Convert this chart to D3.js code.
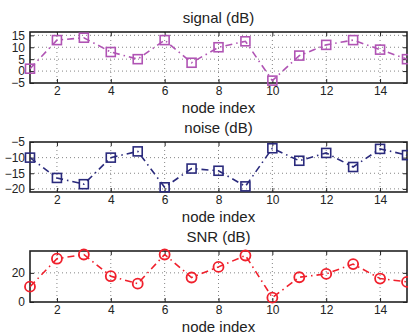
<!DOCTYPE html>
<html>
<head>
<meta charset="utf-8">
<script src="https://cdn.jsdelivr.net/npm/d3@7"></script>
<style>
  body { margin: 0; background: #fff; }
  svg { display: block; font-family: "Liberation Sans", Arial, sans-serif; }
</style>
</head>
<body>
<svg class="visual" width="408" height="334"></svg>
<script>
const svg = d3.select(".visual");

// Node indices
const nodes = d3.range(1, 16);

// Values
const signalDb = [1, 13, 14, 8, 5, 13, 3.5, 10, 12.5, -4, 6.5, 11, 13, 9, 5];
const noiseDb = [-10, -16.5, -18.5, -10, -8, -19.5, -13.5, -14.2, -19.2, -7, -11, -8.5, -13, -7.2, -9.2];
const snrDb = [10.5, 29.7, 32.6, 17.7, 12.6, 32.6, 16.8, 24.1, 31.9, 3, 17, 19.3, 26, 16.1, 13.8];

// Tick labels
const xTicks = [2, 4, 6, 8, 10, 12, 14];
const signalTicks = [-5, 0, 5, 10, 15];
const noiseTicks = [-20, -15, -10, -5];
const snrTicks = [0, 20];

// One entry per subplot
const panels = [
  {title: "signal (dB)", values: signalDb, ticks: signalTicks, domain: [-5, 16.4], top: 32, bottom: 83, color: "#b054b4", marker: "square"},
  {title: "noise (dB)", values: noiseDb, ticks: noiseTicks, domain: [-21, -5], top: 142, bottom: 192, color: "#2a2a7c", marker: "square"},
  {title: "SNR (dB)", values: snrDb, ticks: snrTicks, domain: [0, 35], top: 251, bottom: 302, color: "#f0202c", marker: "circle"}
];

const left = 30, right = 407;
const x = d3.scaleLinear().domain([1, 15]).range([left, right]);
const fmt = d => d < 0 ? "\u2212" + Math.abs(d) : String(d);

panels.forEach(p => {
  const y = d3.scaleLinear().domain(p.domain).range([p.bottom, p.top]);
  const g = svg.append("g");

  // dotted grid
  g.selectAll(".vgrid").data(xTicks).join("line")
    .attr("x1", d => x(d)).attr("x2", d => x(d))
    .attr("y1", p.top).attr("y2", p.bottom)
    .attr("stroke", "#666").attr("stroke-width", 0.8)
    .attr("stroke-dasharray", "1,3");
  g.selectAll(".hgrid").data(p.ticks.filter(t => t > p.domain[0] && t < p.domain[1])).join("line")
    .attr("x1", left).attr("x2", right)
    .attr("y1", d => y(d)).attr("y2", d => y(d))
    .attr("stroke", "#666").attr("stroke-width", 0.8)
    .attr("stroke-dasharray", "1,3");

  // inward ticks on all four sides
  const xAxisB = d3.axisBottom(x).tickValues(xTicks).tickSizeInner(-4).tickSizeOuter(0).tickPadding(5);
  const xAxisT = d3.axisTop(x).tickValues(xTicks).tickSizeInner(-4).tickSizeOuter(0).tickFormat("");
  const yAxisL = d3.axisLeft(y).tickValues(p.ticks).tickSizeInner(-4).tickSizeOuter(0).tickPadding(5).tickFormat(fmt);
  const yAxisR = d3.axisRight(y).tickValues(p.ticks).tickSizeInner(-4).tickSizeOuter(0).tickFormat("");

  const ab = g.append("g").attr("transform", `translate(0,${p.bottom})`).call(xAxisB);
  g.append("g").attr("transform", `translate(0,${p.top})`).call(xAxisT);
  g.append("g").attr("transform", `translate(${left},0)`).call(yAxisL);
  g.append("g").attr("transform", `translate(${right},0)`).call(yAxisR);
  g.selectAll(".domain").remove();
  g.selectAll(".tick line").attr("stroke", "#222").attr("stroke-width", 1);
  g.selectAll(".tick text").attr("fill", "#222").style("font-size", "12px");
  ab.selectAll(".tick text").attr("dy", "0.62em");

  // the box
  g.append("rect")
    .attr("x", left).attr("y", p.top)
    .attr("width", right - left).attr("height", p.bottom - p.top)
    .attr("fill", "none").attr("stroke", "#222").attr("stroke-width", 1.6);

  // data line, dash-dot
  const line = d3.line().x((d, i) => x(nodes[i])).y(d => y(d));
  g.append("path").datum(p.values)
    .attr("d", line)
    .attr("fill", "none")
    .attr("stroke", p.color)
    .attr("stroke-width", 1.6)
    .attr("stroke-dasharray", "7,4,1.5,4");

  if (p.marker === "square") {
    g.selectAll(".mk").data(p.values).join("rect")
      .attr("x", (d, i) => x(nodes[i]) - 4.5)
      .attr("y", d => y(d) - 4.5)
      .attr("width", 9).attr("height", 9)
      .attr("fill", "none").attr("stroke", p.color).attr("stroke-width", 1.6);
  } else {
    g.selectAll(".mk").data(p.values).join("circle")
      .attr("cx", (d, i) => x(nodes[i]))
      .attr("cy", d => y(d))
      .attr("r", 5)
      .attr("fill", "none").attr("stroke", p.color).attr("stroke-width", 1.8);
  }

  // title and x label
  svg.append("text")
    .attr("x", (left + right) / 2).attr("y", p.top - 9)
    .attr("text-anchor", "middle")
    .style("font-size", "15px").attr("fill", "#222")
    .text(p.title);
  svg.append("text")
    .attr("x", (left + right) / 2).attr("y", p.bottom + 30)
    .attr("text-anchor", "middle")
    .style("font-size", "15px").attr("fill", "#222")
    .text("node index");
});
</script>
</body>
</html>
